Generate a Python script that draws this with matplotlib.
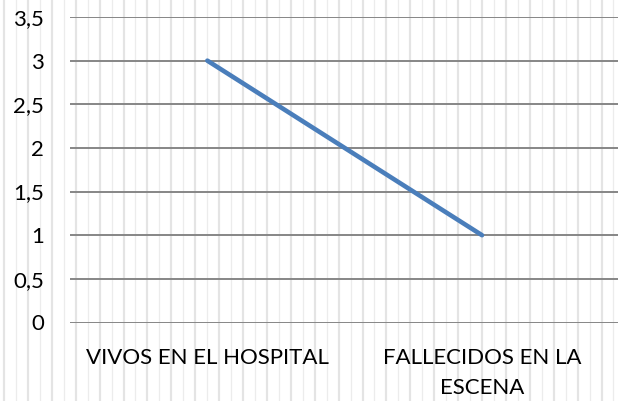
import matplotlib
matplotlib.use("Agg")
import matplotlib.pyplot as plt
from matplotlib.lines import Line2D
import numpy as np

categories = ["VIVOS EN EL HOSPITAL", "FALLECIDOS EN LA\nESCENA"]
values = [3, 1]
yticks = [0, 0.5, 1, 1.5, 2, 2.5, 3, 3.5]
ytick_labels = ["0", "0,5", "1", "1,5", "2", "2,5", "3", "3,5"]

W, H = 618, 401
fig = plt.figure(figsize=(W / 100, H / 100), dpi=100)
fig.patch.set_facecolor("white")

# page background vertical rules
xs = np.arange(4, W + 12, 11.95)
for i, x in enumerate(xs):
    thick = (i % 2 == 0)
    fig.add_artist(Line2D([x / W, x / W], [0, 1], transform=fig.transFigure,
                          color="#e4e4e4" if thick else "#ececec",
                          lw=1.6 if thick else 0.9, zorder=0))

left, right = 70 / W, 1.0
top, bottom = 1 - 17 / H, 1 - 322.5 / H
ax = fig.add_axes([left, bottom, right - left, top - bottom])
ax.patch.set_alpha(0)

x = np.arange(len(categories))
ax.plot(x, values, color="#4a7ebb", lw=3.3, solid_capstyle="round", zorder=3)
ax.set_xlim(-0.5, 1.495)
ax.set_ylim(0, 3.5)

ax.set_yticks(yticks)
ax.set_yticklabels(ytick_labels)
ax.set_xticks(x)
ax.set_xticklabels(categories)
ax.yaxis.grid(True, color="#868686", lw=1.4)
ax.set_axisbelow(True)
for s in ax.spines.values():
    s.set_visible(False)
ax.tick_params(axis="both", length=0, labelsize=16, colors="black")
ax.tick_params(axis="y", pad=18.5)
ax.tick_params(axis="x", pad=18)
for lbl in ax.get_xticklabels() + ax.get_yticklabels():
    lbl.set_fontfamily("Lato")
for lbl in ax.get_xticklabels():
    lbl.set_linespacing(1.65)

fig.savefig("out.png", dpi=100, facecolor="white")
